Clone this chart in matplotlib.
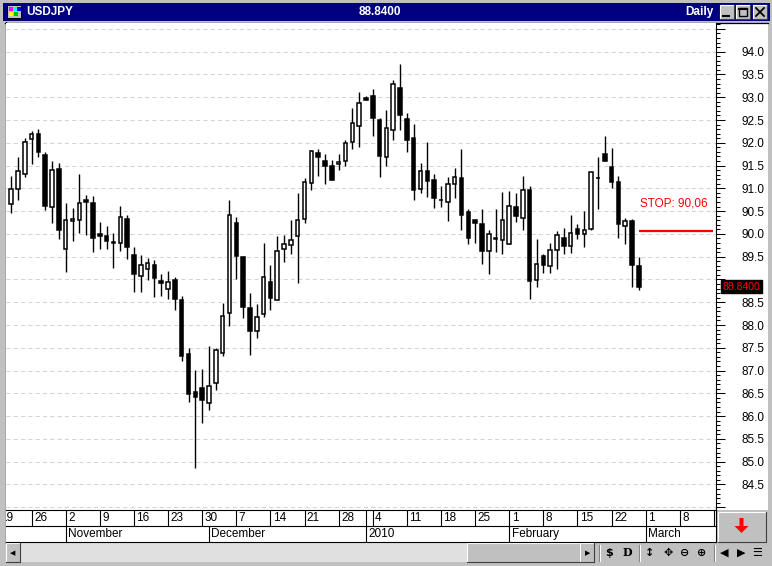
import numpy as np
import pandas as pd
import matplotlib
matplotlib.use("Agg")
import matplotlib.pyplot as plt
import matplotlib.transforms as mtransforms
from matplotlib.patches import Rectangle, FancyArrow
from matplotlib.ticker import MultipleLocator, FuncFormatter

plt.rcParams['font.family'] = ['Liberation Sans', 'DejaVu Sans']

symbol = 'USDJPY'
period = 'Daily'
days = pd.bdate_range('2009-10-21', '2010-02-26')
opens = [90.65, 90.98, 91.31, 92.09, 92.19, 91.73, 90.60, 91.43, 89.66, 90.28,
         90.30, 90.74, 90.68, 90.00, 89.96, 89.82, 89.81, 90.33, 89.53, 89.08,
         89.22, 89.31, 88.97, 88.80, 88.98, 88.54, 87.36, 86.54, 86.62, 86.28,
         86.72, 87.38, 88.27, 90.24, 89.49, 88.38, 87.88, 88.25, 88.95, 88.54,
         89.66, 89.75, 89.95, 90.32, 91.11, 91.77, 91.60, 91.49, 91.53, 91.60,
         92.01, 92.38, 92.98, 93.02, 92.50, 91.68, 92.28, 93.20, 92.52, 92.10,
         90.98, 91.38, 91.18, 90.74, 90.71, 91.09, 91.22, 90.48, 90.30, 90.21,
         89.62, 89.91, 89.86, 89.77, 90.59, 90.34, 90.96, 88.98, 89.51, 89.29,
         89.64, 89.91, 89.73, 90.10, 89.99, 90.10, 91.22, 91.75, 91.46, 91.14,
         90.17, 90.28, 89.29]
highs = [91.27, 91.68, 92.10, 92.26, 92.30, 91.80, 91.60, 91.56, 90.67, 90.57,
         91.32, 90.85, 90.83, 90.26, 90.18, 90.03, 90.61, 90.42, 89.71, 89.53,
         89.47, 89.43, 89.12, 89.18, 89.05, 88.63, 87.50, 87.01, 87.04, 87.54,
         87.50, 88.48, 90.74, 90.37, 89.52, 88.70, 88.46, 89.80, 89.32, 89.96,
         89.98, 90.30, 90.89, 91.22, 91.84, 91.87, 91.75, 91.63, 91.75, 92.07,
         92.76, 93.12, 93.02, 93.18, 92.54, 92.72, 93.38, 93.73, 92.65, 92.41,
         91.55, 92.01, 91.31, 91.05, 91.25, 91.44, 91.86, 90.54, 90.32, 90.54,
         90.08, 90.54, 90.92, 90.94, 90.89, 91.27, 91.05, 89.88, 89.55, 89.80,
         90.06, 90.13, 90.41, 90.21, 90.50, 91.35, 91.68, 92.15, 91.88, 91.27,
         90.34, 90.32, 89.49]
lows = [90.47, 90.75, 91.26, 91.54, 91.68, 90.53, 90.23, 89.89, 89.17, 89.85,
        90.03, 89.98, 89.61, 89.68, 89.68, 89.26, 89.63, 89.46, 88.73, 88.72,
        88.99, 88.62, 88.64, 88.57, 88.33, 87.22, 86.30, 84.86, 85.86, 86.14,
        86.58, 87.31, 87.98, 89.01, 88.16, 87.35, 87.72, 88.17, 88.32, 88.54,
        89.38, 89.55, 88.93, 90.23, 90.96, 91.28, 91.10, 91.18, 91.40, 91.50,
        91.87, 91.90, 92.95, 92.16, 91.24, 91.50, 92.07, 92.28, 91.79, 90.74,
        90.89, 90.82, 90.58, 90.60, 90.29, 90.78, 90.09, 89.77, 89.79, 89.33,
        89.13, 89.61, 89.57, 89.77, 90.26, 90.08, 88.57, 88.83, 89.14, 89.14,
        89.22, 89.55, 89.58, 89.88, 89.71, 90.08, 90.54, 91.60, 91.00, 89.91,
        89.77, 88.83, 88.76]
closes = [90.98, 91.38, 92.01, 92.19, 91.79, 90.62, 91.40, 90.09, 90.31, 90.33,
          90.67, 90.71, 89.92, 89.96, 89.85, 89.79, 90.37, 89.72, 89.13, 89.31,
          89.36, 89.04, 88.92, 88.95, 88.58, 87.31, 86.49, 86.43, 86.36, 86.66,
          87.45, 88.19, 90.41, 89.52, 88.40, 87.88, 88.17, 89.05, 88.60, 89.62,
          89.77, 89.86, 90.30, 91.13, 91.82, 91.68, 91.50, 91.18, 91.57, 91.99,
          92.43, 92.87, 92.95, 92.55, 91.72, 92.32, 93.29, 92.60, 92.07, 90.96,
          91.38, 91.16, 90.78, 90.74, 91.09, 91.25, 90.42, 89.90, 90.23, 89.63,
          89.99, 89.88, 90.30, 90.61, 90.39, 90.96, 88.96, 89.33, 89.31, 89.64,
          89.97, 89.73, 90.02, 89.99, 90.08, 91.35, 91.22, 91.60, 91.14, 90.21,
          90.28, 89.31, 88.84]
stop_level = 90.06
stop_label = 'STOP: 90,06'
week_starts = pd.date_range('2009-10-19', '2010-03-15', freq='W-MON')
month_starts = ['2009-11-02', '2009-12-01', '2010-01-01', '2010-02-01', '2010-03-01']
month_labels = ['November', 'December', '2010', 'February', 'March']

origin = '2009-10-19'


def bday_pos(d):
    return np.busday_count(origin, np.asarray(d, dtype='datetime64[D]'))


W, H = 772, 566
GRAY = '#c0c0c0'
fig = plt.figure(figsize=(W / 100, H / 100), dpi=100, facecolor=GRAY)


def px_axes(x0, y0, x1, y1, **kw):
    return fig.add_axes([x0 / W, 1 - y1 / H, (x1 - x0) / W, (y1 - y0) / H], **kw)


# window chrome drawn in pixel coordinates
ui = px_axes(0, 0, W, H, zorder=-1)
ui.axis('off')


def bevel(x0, y0, x1, y1):
    ui.add_patch(Rectangle((x0, y0), x1 - x0, y1 - y0, fc=GRAY, ec='none'))
    ui.plot([x0, x0, x1], [y1, y0, y0], color='white', lw=0.8)
    ui.plot([x0, x1, x1], [y1, y1, y0], color='#404040', lw=0.8)


ui.add_patch(Rectangle((3, 3), 767, 17.5, fc='#000080', ec='none'))
ui.add_patch(Rectangle((7, 5), 14, 13, fc=GRAY, ec='black', lw=0.7))
for (cx, cy, cc) in [(8.5, 7, '#ff00ff'), (13, 7, '#00ffff'), (17, 7, '#0000ff'),
                     (8.5, 12, '#ffff00'), (14, 12, '#00c000')]:
    ui.add_patch(Rectangle((cx, cy), 4, 4, fc=cc, ec='none'))
ui.text(26, 12, symbol, color='white', fontsize=8.5, fontweight='bold', va='center')
ui.text(380, 12, '%.4f' % closes[-1], color='white', fontsize=8.5, fontweight='bold',
        va='center', ha='center')
ui.text(714, 12, period, color='white', fontsize=8.5, fontweight='bold', va='center', ha='right')
for bx in (720, 736, 753):
    bevel(bx, 5, bx + 14, 19)
ui.plot([723, 729], [16, 16], color='black', lw=1.5)
ui.add_patch(Rectangle((739, 8), 8, 8, fc='none', ec='black', lw=1))
ui.plot([739, 747], [8.5, 8.5], color='black', lw=1.5)
ui.plot([756, 764], [8, 16], color='black', lw=1.3)
ui.plot([756, 764], [16, 8], color='black', lw=1.3)

ui.add_patch(Rectangle((6, 23), 762, 487, fc='white', ec='none'))
ui.plot([5, 768], [22.5, 22.5], color='black', lw=0.9)
ui.plot([5.5, 5.5], [22, 543], color='black', lw=0.9)

# red arrow button
bevel(718, 512, 766, 542)
ui.add_patch(FancyArrow(741.5, 518, 0, 15, width=4, head_width=14, head_length=7,
                        length_includes_head=True, color='#ff0000', lw=0))

# scroll bar row
ui.add_patch(Rectangle((20, 543), 447, 19, fc='#e0e0e0', ec='none'))
bevel(6, 543, 20, 562)
bevel(467, 543, 580, 562)
bevel(580, 543, 594, 562)
ui.text(12.5, 553, '◀', fontsize=5, ha='center', va='center', family='DejaVu Sans')
ui.text(587.5, 553, '▶', fontsize=5, ha='center', va='center', family='DejaVu Sans')
for sx in (599, 639, 714):
    ui.plot([sx, sx], [545, 561], color='#808080', lw=0.8)
    ui.plot([sx + 1, sx + 1], [545, 561], color='white', lw=0.8)
icons = [(609, '$', 'DejaVu Sans'), (627, 'D', 'DejaVu Serif'), (650, '↕', 'DejaVu Sans'),
         (668, '✥', 'DejaVu Sans'), (685, '⊖', 'DejaVu Sans'), (702, '⊕', 'DejaVu Sans'),
         (724, '◀', 'DejaVu Sans'), (741, '▶', 'DejaVu Sans'), (757, '☰', 'DejaVu Sans')]
for ix, glyph, fam in icons:
    ui.text(ix, 553, glyph, fontsize=8, fontweight='bold', ha='center', va='center', family=fam)

ui.set_xlim(0, W)
ui.set_ylim(H, 0)

# price chart
ax = px_axes(6, 23, 716, 510)
ax.set_facecolor('white')
x = bday_pos(days)
o, hi, lo, c = (np.array(v) for v in (opens, highs, lows, closes))
up = c >= o
ax.vlines(x, lo, hi, color='black', lw=1.0, zorder=2)
ax.bar(x, np.abs(c - o), bottom=np.minimum(o, c), width=0.52,
       color=np.where(up, 'white', 'black'), edgecolor='black', linewidth=1.1, zorder=3)

ax.set_xlim(1.25, 105.3)
ax.set_ylim(83.94, 94.63)
ax.yaxis.tick_right()
ax.yaxis.set_major_locator(MultipleLocator(0.5))
ax.yaxis.set_minor_locator(MultipleLocator(0.1))


def price_fmt(v, pos):
    # the scale hides labels at the edges and under the last-price box
    if v < 84.25 or v > 94.25 or abs(v - closes[-1]) < 0.25:
        return ''
    return '%.1f' % v


ax.yaxis.set_major_formatter(FuncFormatter(price_fmt))
ax.tick_params(axis='y', which='major', direction='out', length=6.5, width=0.75,
               pad=11.5, labelsize=8.5, colors='black')
ax.tick_params(axis='y', which='minor', direction='out', length=3, width=0.75)
ax.set_xticks([])
for s in ('top', 'left', 'bottom'):
    ax.spines[s].set_visible(False)
ax.spines['right'].set_linewidth(0.8)
ax.grid(axis='y', which='major', color='#d4d4d4', linestyle=(0, (4, 3)), lw=0.75)
ax.set_axisbelow(True)

# stop level and label
ax.plot([x[-1], ax.get_xlim()[1] - 0.5], [stop_level, stop_level], color='#ff0000',
        lw=1.6, zorder=4, solid_capstyle='butt')
ax.text(x[-1] + 0.2, stop_level + 0.61, stop_label, color='#ff0000', fontsize=8.5,
        ha='left', va='center')

# last price box on the scale
trans = mtransforms.blended_transform_factory(ax.transAxes, ax.transData)
ax.text(1.009, closes[-1], '%.4f' % closes[-1], transform=trans, color='#ff0000',
        fontsize=7.5, ha='left', va='center', clip_on=False, zorder=10,
        bbox=dict(boxstyle='square,pad=0.15', fc='black', ec='black'))

# date scale: week ticks in the upper row, month breaks in the lower row
dax = px_axes(6, 510, 716, 542)
dax.set_facecolor('white')
dax.set_xlim(ax.get_xlim())
dax.set_ylim(0, 2)
dax.set_xticks([])
dax.set_yticks([])
dax.spines['left'].set_visible(False)
for s in ('top', 'right', 'bottom'):
    dax.spines[s].set_linewidth(0.8)
dax.axhline(1, color='black', lw=0.8)
wx = bday_pos(week_starts)
mx = bday_pos(month_starts)
dax.vlines(wx, 1, 2, color='black', lw=0.8)
dax.vlines(mx, 0, 1, color='black', lw=0.8)
year_break = mx[[lab.isdigit() for lab in month_labels]]
dax.vlines(year_break, 1, 2, color='black', lw=0.8)
for px_, d in zip(wx, week_starts):
    dax.text(px_ + 0.35, 1.5, str(d.day), fontsize=8.5, ha='left', va='center', clip_on=True)
for px_, lab in zip(mx, month_labels):
    dax.text(px_ + 0.35, 0.5, lab, fontsize=8.5, ha='left', va='center', clip_on=True)

fig.savefig('out.png', dpi=100, facecolor=fig.get_facecolor())
